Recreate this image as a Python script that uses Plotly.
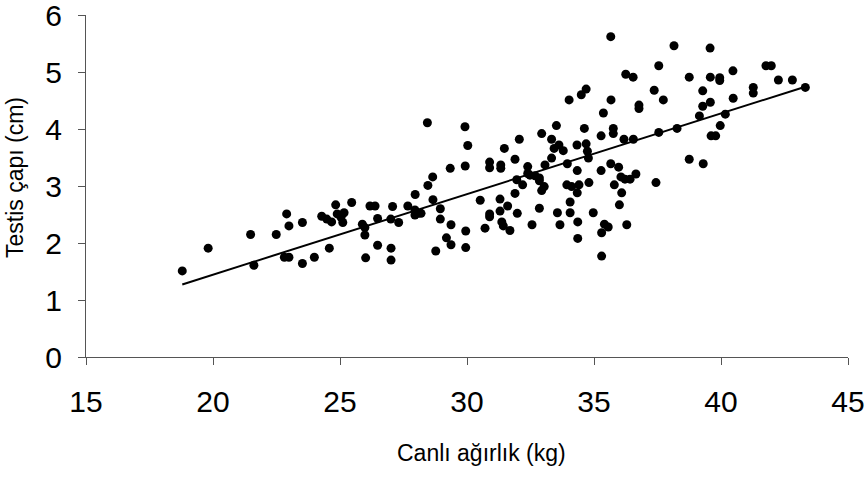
import numpy as np
import plotly.graph_objects as go

# Live weight (kg) and testis diameter (cm) for each animal
live_weight = [
    18.79, 19.81, 21.48, 21.61, 22.49, 22.90, 22.99, 22.81, 22.99, 23.52,
    23.52, 23.99, 24.58, 24.28, 24.48, 24.67, 24.83, 24.89, 25.04, 25.11,
    25.16, 25.46, 26.18, 26.38, 27.07, 27.67, 27.95, 28.08, 28.19, 27.95,
    26.48, 27.00, 27.31, 25.88, 25.98, 25.98, 26.48, 27.01, 26.01, 27.01,
    28.44, 29.92, 30.03, 29.34, 29.93, 30.89, 30.89, 28.65, 28.46, 27.96,
    28.66, 28.95, 28.95, 29.37, 29.19, 29.37, 28.77, 29.95, 29.95, 30.52,
    30.89, 30.89, 30.71,
    35.66, 36.25, 34.69, 34.50, 34.02, 35.67, 35.37, 33.52, 34.62, 35.76,
    35.76, 32.94, 32.06, 33.33, 35.28, 36.18, 31.47, 33.62, 33.43, 33.79,
    34.33, 34.69, 34.74, 34.78, 31.33, 31.33, 31.89, 32.39, 32.39, 32.48,
    32.68, 32.85, 32.85, 33.07, 33.33, 33.95, 34.34, 35.66, 35.97, 35.28,
    36.06, 36.22, 35.80, 31.96, 32.19, 31.89, 32.94, 33.04, 33.93, 34.12,
    34.41, 34.34, 34.80, 36.09, 31.30, 31.60, 31.30, 31.98, 32.85, 34.06,
    33.56, 34.06, 34.97, 36.00, 31.37, 31.43, 31.69, 32.56, 33.66, 34.36,
    35.41, 35.56, 36.29, 35.30, 34.36, 35.30,
    38.15, 39.57, 37.55, 41.77, 41.98, 36.54, 38.75, 39.58, 39.95, 39.95,
    40.47, 42.26, 42.81, 43.32, 41.27, 41.27, 37.37, 39.28, 37.73, 40.48,
    36.77, 36.77, 39.58, 39.28, 39.15, 40.17, 39.97, 38.27, 37.55, 36.55,
    39.61, 39.79, 38.75, 39.30, 36.65, 37.44, 36.42,
]
testis_diameter = [
    1.51, 1.91, 2.15, 1.61, 2.15, 2.51, 2.30, 1.75, 1.75, 2.36,
    1.64, 1.75, 1.91, 2.47, 2.42, 2.37, 2.67, 2.51, 2.45, 2.36,
    2.53, 2.71, 2.65, 2.65, 2.64, 2.65, 2.58, 2.52, 2.52, 2.49,
    2.43, 2.42, 2.36, 2.33, 2.27, 2.14, 1.96, 1.91, 1.74, 1.70,
    4.11, 4.04, 3.71, 3.31, 3.35, 3.42, 3.32, 3.16, 3.01, 2.85,
    2.76, 2.60, 2.42, 2.32, 2.09, 1.97, 1.86, 2.21, 1.92, 2.75,
    2.51, 2.46, 2.26,
    5.62, 4.96, 4.70, 4.60, 4.51, 4.51, 4.28, 4.06, 4.01, 4.01,
    3.92, 3.92, 3.82, 3.82, 3.88, 3.82, 3.66, 3.72, 3.66, 3.62,
    3.72, 3.74, 3.61, 3.49, 3.37, 3.31, 3.47, 3.34, 3.22, 3.19,
    3.18, 3.14, 3.09, 3.37, 3.49, 3.39, 3.27, 3.39, 3.33, 3.27,
    3.16, 3.12, 3.02, 3.11, 3.02, 2.87, 2.92, 2.99, 3.02, 2.99,
    3.02, 2.88, 3.06, 2.88, 2.77, 2.65, 2.56, 2.52, 2.61, 2.72,
    2.53, 2.53, 2.53, 2.67, 2.37, 2.30, 2.22, 2.32, 2.32, 2.37,
    2.33, 2.28, 2.32, 2.18, 2.08, 1.77,
    5.46, 5.42, 5.11, 5.11, 5.11, 4.91, 4.91, 4.91, 4.90, 4.85,
    5.02, 4.86, 4.86, 4.73, 4.73, 4.63, 4.68, 4.67, 4.51, 4.54,
    4.42, 4.36, 4.47, 4.40, 4.23, 4.26, 4.06, 4.01, 3.94, 3.82,
    3.88, 3.88, 3.47, 3.39, 3.21, 3.06, 3.12,
]

x_ticks = [15, 20, 25, 30, 35, 40, 45]
y_ticks = [0, 1, 2, 3, 4, 5, 6]

x = np.array(live_weight)
y = np.array(testis_diameter)

# Least-squares linear trend
slope, intercept = np.polyfit(x, y, 1)
x_fit = np.array([x.min(), x.max()])
y_fit = slope * x_fit + intercept

FONT = "Liberation Sans, Arial, sans-serif"

fig = go.Figure()
fig.add_trace(go.Scatter(
    x=live_weight, y=testis_diameter, mode="markers",
    marker=dict(color="black", size=9, line=dict(width=0)),
    showlegend=False, cliponaxis=False,
))
fig.add_trace(go.Scatter(
    x=x_fit, y=y_fit, mode="lines",
    line=dict(color="black", width=2),
    showlegend=False,
))

axis_common = dict(
    showgrid=False, zeroline=False, showline=True,
    linecolor="#555555", linewidth=1,
    ticks="outside", ticklen=7, tickcolor="#555555", tickwidth=1,
    tickfont=dict(family=FONT, size=30, color="black"),
    ticklabeloverflow="allow", automargin=False,
)

fig.update_layout(
    width=868, height=479,
    margin=dict(l=86, r=20, t=15, b=122, autoexpand=False),
    plot_bgcolor="white", paper_bgcolor="white",
    xaxis=dict(range=[15, 45], tickvals=x_ticks, ticktext=[str(v) for v in x_ticks],
               ticklabelstandoff=11, **axis_common),
    yaxis=dict(range=[0, 6], tickvals=y_ticks, ticktext=[str(v) for v in y_ticks],
               ticklabelstandoff=10, **axis_common),
    annotations=[
        dict(text="Canlı ağırlık (kg)", x=481, y=453, xref="paper", yref="paper",
             showarrow=False, font=dict(family=FONT, size=23, color="black")),
        dict(text="Testis çapı (cm)", x=15, y=178, xref="paper", yref="paper",
             showarrow=False, textangle=-90,
             font=dict(family=FONT, size=23, color="black")),
    ],
)

# Convert pixel placement of the titles into paper coordinates
plot_w = 868 - 86 - 20
plot_h = 479 - 15 - 122
for ann in fig.layout.annotations:
    ann.x = (ann.x - 86) / plot_w
    ann.y = (479 - 122 - ann.y) / plot_h
    ann.xanchor = "center"
    ann.yanchor = "middle"

fig.write_html("out.html")
